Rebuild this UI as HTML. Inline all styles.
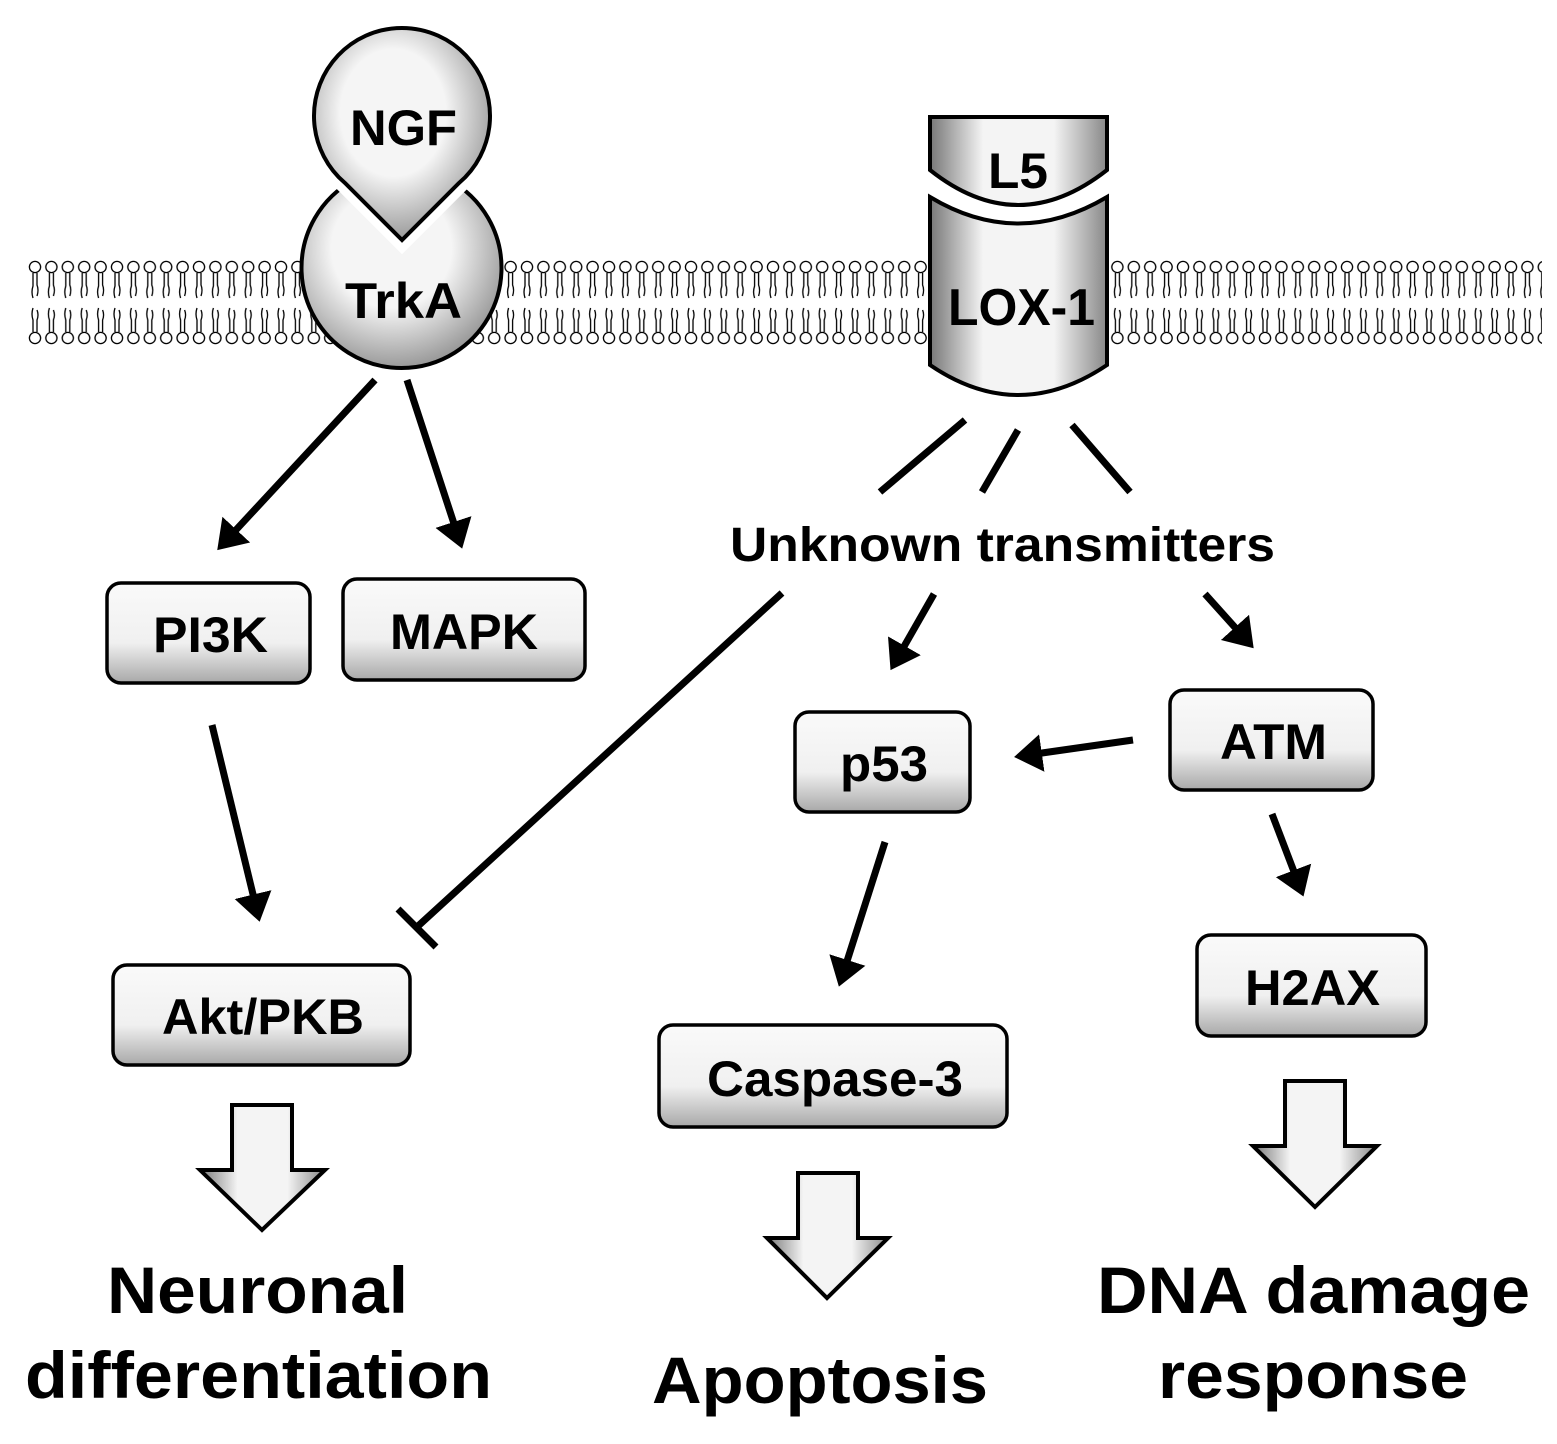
<!DOCTYPE html>
<html><head><meta charset="utf-8"><style>
html,body{margin:0;padding:0;background:#fff;}
svg{display:block;}
text{font-family:"Liberation Sans",Arial,sans-serif;font-weight:bold;fill:#000;}
</style></head><body>
<svg width="1557" height="1444" viewBox="0 0 1557 1444" xmlns="http://www.w3.org/2000/svg">
<defs>
<linearGradient id="g" x1="0" y1="0" x2="0" y2="1">
<stop offset="0" stop-color="#fafafa"/><stop offset="0.6" stop-color="#f0f0f0"/><stop offset="1" stop-color="#a8a8a8"/></linearGradient>
<linearGradient id="gh" x1="0" y1="0" x2="1" y2="0">
<stop offset="0" stop-color="#777"/><stop offset="0.3" stop-color="#f4f4f4"/><stop offset="0.7" stop-color="#f4f4f4"/><stop offset="1" stop-color="#888"/></linearGradient>
<radialGradient id="rg" cx="0.45" cy="0.4" r="0.6"><stop offset="0.5" stop-color="#f5f5f5"/><stop offset="1" stop-color="#9a9a9a"/></radialGradient>
<pattern id="lip" x="28" y="0" width="16.4" height="400" patternUnits="userSpaceOnUse">
<g fill="#fff" stroke="#000" stroke-width="1.3">
<circle cx="7" cy="267" r="5.6"/>
<path d="M5 273 V286 Q3 292 5 298 M9 273 V285 Q11 290 9 296" fill="none"/>
<path d="M5 308 Q3 314 5 320 V332 M9 310 Q11 315 9 320 V332" fill="none"/>
<circle cx="7" cy="338" r="5.6"/>
</g></pattern>
<marker id="ah" markerWidth="6" markerHeight="6" refX="3" refY="3" orient="auto" markerUnits="strokeWidth"><path d="M0,0.3 L4,3 L0,5.7 z" fill="#000"/></marker>
</defs>
<rect x="28" y="258" width="1514" height="88" fill="url(#lip)"/>

<!-- TrkA -->
<path d="M402 168 A100 100 0 1 1 401 168" fill="url(#rg)" stroke="#000" stroke-width="4"/>
<!-- NGF -->
<path d="M402 240 L345 183 A88 88 0 1 1 459 183 Z" fill="#fff" stroke="#fff" stroke-width="20"/>
<path d="M402 240 L345 183 A88 88 0 1 1 459 183 Z" fill="url(#rg)" stroke="#000" stroke-width="4"/>
<text x="350" y="145" font-size="50" textLength="107" lengthAdjust="spacingAndGlyphs">NGF</text>
<text x="345" y="318" font-size="50" textLength="117" lengthAdjust="spacingAndGlyphs">TrkA</text>

<!-- LOX-1 -->
<path d="M930 197 Q1018 250 1107 197 V365 Q1018 425 930 365 Z" fill="url(#gh)" stroke="#000" stroke-width="4"/>
<path d="M930 117 H1107 V170 Q1018 240 930 170 Z" fill="url(#gh)" stroke="#000" stroke-width="4"/>
<text x="988" y="188" font-size="50" textLength="60" lengthAdjust="spacingAndGlyphs">L5</text>
<text x="948" y="325" font-size="52" textLength="147" lengthAdjust="spacingAndGlyphs">LOX-1</text>

<!-- boxes -->
<g stroke="#000" stroke-width="3.5" fill="url(#g)">
<rect x="107" y="583" width="203" height="100" rx="14"/>
<rect x="343" y="579" width="242" height="101" rx="14"/>
<rect x="795" y="712" width="175" height="100" rx="14"/>
<rect x="1170" y="690" width="203" height="100" rx="14"/>
<rect x="113" y="965" width="297" height="100" rx="14"/>
<rect x="659" y="1025" width="348" height="102" rx="14"/>
<rect x="1197" y="935" width="229" height="101" rx="14"/>
</g>
<g font-size="50" lengthAdjust="spacingAndGlyphs">
<text x="153" y="652" textLength="115" lengthAdjust="spacingAndGlyphs">PI3K</text>
<text x="390" y="649" textLength="148" lengthAdjust="spacingAndGlyphs">MAPK</text>
<text x="840" y="781" textLength="88" lengthAdjust="spacingAndGlyphs">p53</text>
<text x="1220" y="759" textLength="107" lengthAdjust="spacingAndGlyphs">ATM</text>
<text x="162" y="1034" textLength="202" lengthAdjust="spacingAndGlyphs">Akt/PKB</text>
<text x="707" y="1096" textLength="256" lengthAdjust="spacingAndGlyphs">Caspase-3</text>
<text x="1245" y="1005" textLength="135" lengthAdjust="spacingAndGlyphs">H2AX</text>
</g>
<text x="730" y="561" font-size="48" textLength="545" lengthAdjust="spacingAndGlyphs">Unknown transmitters</text>

<!-- connectors -->
<g stroke="#000" stroke-width="7" fill="none">
<line x1="375" y1="380" x2="222" y2="545" marker-end="url(#ah)"/>
<line x1="407" y1="380" x2="460" y2="542" marker-end="url(#ah)"/>
<line x1="212" y1="725" x2="258" y2="915" marker-end="url(#ah)"/>
<line x1="965" y1="420" x2="880" y2="492"/>
<line x1="1018" y1="430" x2="982" y2="492"/>
<line x1="1072" y1="425" x2="1130" y2="492"/>
<line x1="782" y1="593" x2="417" y2="927"/>
<line x1="398" y1="909" x2="436" y2="947"/>
<line x1="934" y1="594" x2="894" y2="664" marker-end="url(#ah)"/>
<line x1="1205" y1="594" x2="1249" y2="643" marker-end="url(#ah)"/>
<line x1="1133" y1="740" x2="1021" y2="756" marker-end="url(#ah)"/>
<line x1="885" y1="842" x2="841" y2="980" marker-end="url(#ah)"/>
<line x1="1272" y1="814" x2="1301" y2="890" marker-end="url(#ah)"/>
</g>

<!-- block arrows -->
<g stroke="#000" stroke-width="4" fill="url(#gh)">
<path d="M232 1105 H292 V1170 H325 L262 1230 L200 1170 H232 Z"/>
<path d="M798 1173 H858 V1238 H888 L827 1298 L767 1238 H798 Z"/>
<path d="M1285 1081 H1345 V1146 H1377 L1315 1207 L1253 1146 H1285 Z"/>
</g>

<g font-size="66">
<text x="107" y="1313" textLength="301" lengthAdjust="spacingAndGlyphs">Neuronal</text>
<text x="25" y="1398" textLength="467" lengthAdjust="spacingAndGlyphs">differentiation</text>
<text x="652" y="1403" textLength="336" lengthAdjust="spacingAndGlyphs">Apoptosis</text>
<text x="1097" y="1313" textLength="433" lengthAdjust="spacingAndGlyphs">DNA damage</text>
<text x="1158" y="1398" textLength="310" lengthAdjust="spacingAndGlyphs">response</text>
</g>
</svg>
</body></html>
